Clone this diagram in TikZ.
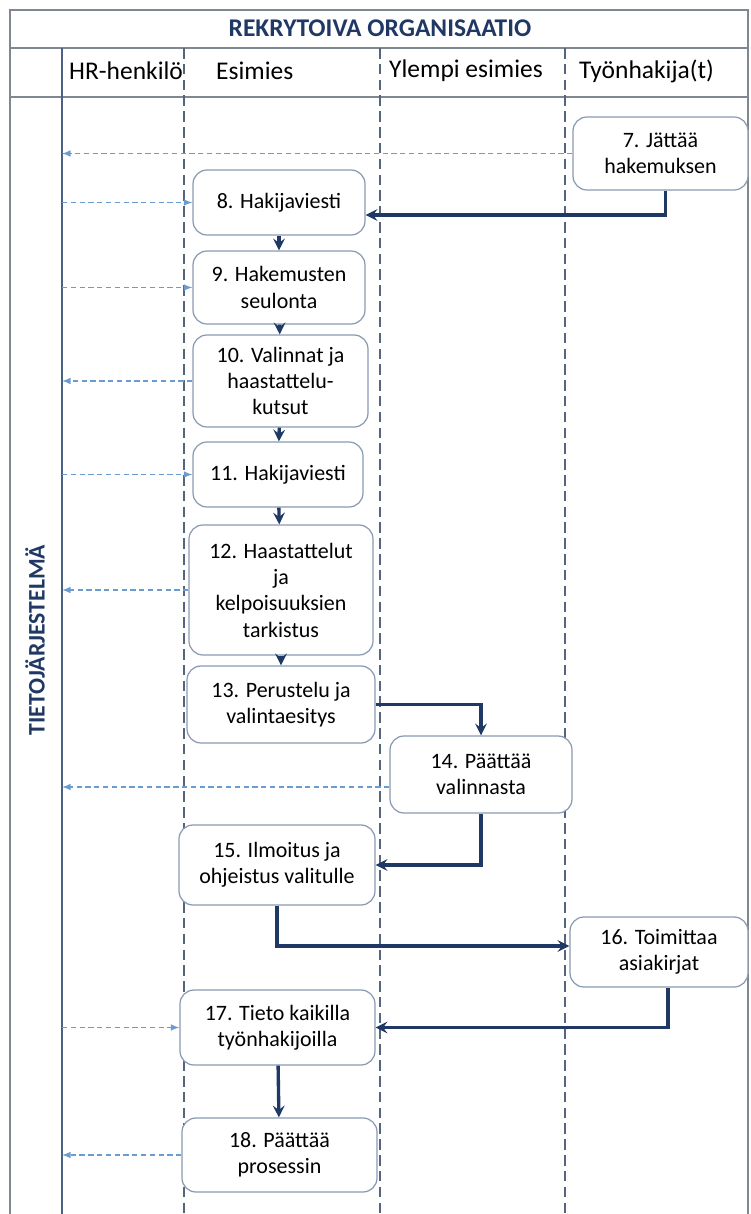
\documentclass[tikz,border=0pt]{standalone}
\usepackage{fontspec}
\setmainfont{Carlito}
\usepackage{tikz}
\usetikzlibrary{shapes,arrows,positioning,calc}
\definecolor{navy}{HTML}{1F3864}
\definecolor{infoblue}{HTML}{6A9BD1}
\definecolor{boxgray}{HTML}{8A9AB2}
\definecolor{lanegray}{HTML}{55657E}
\definecolor{framegray}{HTML}{7F8790}

\begin{document}
\begin{tikzpicture}[
    base/.style={draw=boxgray, line width=0.7pt, rounded corners=0.28cm, fill=white, align=center, inner sep=2pt, font=\fontsize{12.5}{15}\selectfont},
    lane/.style={dashed, draw=lanegray, line width=0.6pt, dash pattern=on 6pt off 3pt},
    frame/.style={draw=framegray, line width=0.9pt},
    head/.style={anchor=west, font=\fontsize{14.5}{17}\selectfont},
    flow/.style={-stealth, line width=1.9pt, color=navy},
    info/.style={-latex, dashed, dash pattern=on 3pt off 2pt, line width=0.7pt, color=infoblue}
]
\useasboundingbox (0,0) rectangle (15,-24.28);
\draw [frame] (0.2,-24.28) -- (0.2,-0.2) -- (14.96,-0.2) -- (14.96,-24.28);
\draw [frame] (0.2,-0.96) -- (14.96,-0.96);
\draw [frame] (0.2,-1.94) -- (14.96,-1.94);
\draw [frame, draw=navy!80, line width=0.7pt] (1.24,-0.96) -- (1.24,-24.28);
\coordinate (hr) at (1.24,-1.94);
\draw [lane] (3.68,-0.96) -- (3.68,-24.28);
\draw [lane] (7.6,-0.96) -- (7.6,-24.28);
\draw [lane] (11.3,-0.96) -- (11.3,-24.28);

\node (title) at (7.6,-0.57) [text=navy, font=\bfseries\fontsize{14.5}{17}\selectfont] {REKRYTOIVA ORGANISAATIO};
\node (hrh) at (1.26,-1.42) [head] {HR-henkilö};
\node (esi) at (4.2,-1.42) [head] {Esimies};
\node (yle) at (7.66,-1.42) [head] {Ylempi esimies};
\node (hak) at (11.46,-1.42) [head] {Työnhakija(t)};
\node (tj) at (0.7,-12.8) [rotate=90, text=navy, font=\bfseries\fontsize{13.5}{16}\selectfont] {TIETOJÄRJESTELMÄ};

\node (n7) at (13.21,-3.07) [base, minimum width=3.5cm, minimum height=1.46cm] {7. Jättää\\hakemuksen};
\node (n8) at (5.58,-4.05) [base, minimum width=3.44cm, minimum height=1.3cm] {8. Hakijaviesti};
\node (n9) at (5.58,-5.75) [base, minimum width=3.44cm, minimum height=1.46cm] {9. Hakemusten\\seulonta};
\node (n10) at (5.61,-7.62) [base, minimum width=3.5cm, minimum height=1.84cm] {10. Valinnat ja\\haastattelu-\\kutsut};
\node (n11) at (5.56,-9.49) [base, minimum width=3.4cm, minimum height=1.3cm] {11. Hakijaviesti};
\node (n12) at (5.62,-11.8) [base, minimum width=3.68cm, minimum height=2.6cm] {12. Haastattelut\\ja\\kelpoisuuksien\\tarkistus};
\node (n13) at (5.62,-14.09) [base, minimum width=3.76cm, minimum height=1.54cm] {13. Perustelu ja\\valintaesitys};
\node (n14) at (9.62,-15.49) [base, minimum width=3.64cm, minimum height=1.54cm] {14. Päättää\\valinnasta};
\node (n15) at (5.54,-17.3) [base, minimum width=3.92cm, minimum height=1.6cm] {15. Ilmoitus ja\\ohjeistus valitulle};
\node (n16) at (13.18,-19.04) [base, minimum width=3.56cm, minimum height=1.4cm] {16. Toimittaa\\asiakirjat};
\node (n17) at (5.55,-20.55) [base, minimum width=3.9cm, minimum height=1.5cm] {17. Tieto kaikilla\\työnhakijoilla};
\node (n18) at (5.59,-23.1) [base, minimum width=3.9cm, minimum height=1.48cm] {18. Päättää\\prosessin};

\draw [flow] ([xshift=0.1cm]n7.south) |- ([yshift=-0.25cm]n8.east);
\draw [flow] (n8) -- (n9);
\draw [flow] (n9) -- (n10);
\draw [flow] (n10) -- (n11);
\draw [flow] (n11) -- (n12);
\draw [flow] (n12) -- (n13);
\draw [flow] (n13.east) -| (n14.north);
\draw [flow] (n14.south) |- (n15.east);
\draw [flow] (n15.south) |- ([yshift=0.12cm]n16.west);
\draw [flow] ([xshift=0.18cm]n16.south) |- (n17.east);
\draw [flow] (n17) -- (n18);

\draw [info] (n7.west) -- (n7.west -| hr);
\draw [info] (n8.west -| hr) -- (n8.west);
\draw [info] (n9.west -| hr) -- (n9.west);
\draw [info] (n10.west) -- (n10.west -| hr);
\draw [info] (n11.west -| hr) -- (n11.west);
\draw [info] (n12.west) -- (n12.west -| hr);
\draw [info] ([yshift=-0.25cm]n14.west) -- ([yshift=-0.25cm]n14.west -| hr);
\draw [info] (n17.west -| hr) -- (n17.west);
\draw [info] (n18.west) -- (n18.west -| hr);
\end{tikzpicture}
\end{document}
